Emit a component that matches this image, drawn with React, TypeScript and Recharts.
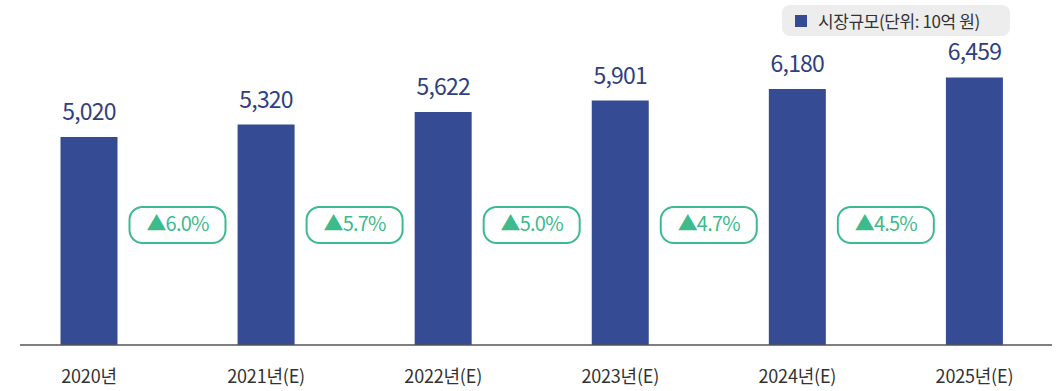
import React from "react";
import { BarChart, Bar, XAxis, YAxis, LabelList } from "recharts";

// market size, unit: 10억 원
const years = ["2020년", "2021년(E)", "2022년(E)", "2023년(E)", "2024년(E)", "2025년(E)"];
const marketSize = [5020, 5320, 5622, 5901, 6180, 6459];
const growthRates = ["6.0%", "5.7%", "5.0%", "4.7%", "4.5%"];

const data = years.map((year, i) => ({ year, value: marketSize[i] }));

const FONT = "'Noto Sans CJK KR', 'Noto Sans', sans-serif";
const BAR = "#354b93";
const GREEN = "#3dbb8c";

const CHART_W = 1057;
const CHART_H = 391;
const BAND = 177;

// badge sits halfway between this bar and the next one
const GrowthBadge = (props: any) => {
  const { x, y, width, height, index } = props;
  const rate = growthRates[index];
  if (!rate) return null;
  const cx = x + width / 2 + BAND / 2;
  const cy = y + height - 120;
  return (
    <g>
      <rect x={cx - 48} y={cy - 18} width={96} height={36} rx={13} fill="#fff" stroke={GREEN} strokeWidth={2} />
      <text x={cx} y={cy + 1} textAnchor="middle" dominantBaseline="middle" fill={GREEN} fontSize={20} fontFamily={FONT} letterSpacing={-0.8}>
        ▲{rate}
      </text>
    </g>
  );
};

export default function App() {
  return (
    <div style={{ position: "absolute", left: 0, top: 0, width: CHART_W, height: CHART_H, overflow: "hidden", background: "#fff" }}>
      <BarChart width={CHART_W} height={CHART_H} data={data} margin={{ top: 55, right: 5, left: 20, bottom: 0 }}>
        <XAxis
          dataKey="year"
          height={46}
          padding={{ left: -19.5, right: -11 }}
          axisLine={{ stroke: "#555", strokeWidth: 1.5 }}
          tickLine={false}
          tickMargin={19}
          tick={{ fill: "#333", fontSize: 18, fontFamily: FONT, letterSpacing: -0.2 }}
        />
        <YAxis hide domain={[0, 7000]} />
        <Bar dataKey="value" fill={BAR} barSize={57} isAnimationActive={false}>
          <LabelList
            dataKey="value"
            position="top"
            offset={17}
            formatter={(v: any) => Number(v).toLocaleString("en-US")}
            style={{ fill: "#2f3f80", fontSize: 23, fontFamily: FONT, letterSpacing: -0.8 }}
          />
          <LabelList dataKey="value" content={GrowthBadge} />
        </Bar>
      </BarChart>
      <div
        style={{
          position: "absolute",
          left: 782,
          top: 5,
          width: 228,
          height: 31,
          background: "#ededed",
          borderRadius: 8,
          display: "flex",
          alignItems: "center",
          fontFamily: FONT,
          fontSize: 17,
          color: "#333",
          letterSpacing: -0.4,
          boxSizing: "border-box",
          paddingLeft: 13,
        }}
      >
        <span style={{ display: "inline-block", width: 12, height: 12, background: BAR, marginRight: 11 }} />
        시장규모(단위: 10억 원)
      </div>
    </div>
  );
}
